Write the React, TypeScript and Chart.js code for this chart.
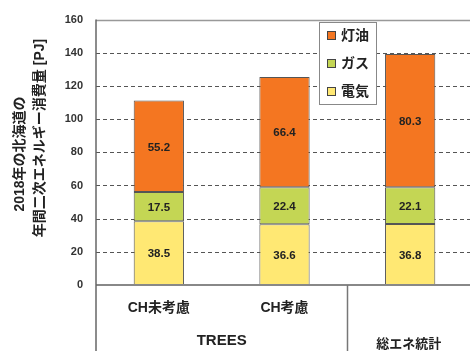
import React, { useEffect, useRef } from "react";
import { Chart, registerables } from "chart.js";

Chart.register(...registerables);

// Energy consumption by source (PJ), stacked bottom to top: electricity, gas, kerosene
const categories = ["CH未考慮", "CH考慮", "総エネ統計"];
const subLabels = ["CH未考慮", "CH考慮", ""];
const groupNames = ["TREES", "TREES", "総エネ統計"];
const electricity = [38.5, 36.6, 36.8];
const gas = [17.5, 22.4, 22.1];
const kerosene = [55.2, 66.4, 80.3];
const legendLabels = ["灯油", "ガス", "電気"];
const yTickValues = [0, 20, 40, 60, 80, 100, 120, 140, 160];
const yTitleLines = ["2018年の北海道の", "年間二次エネルギー消費量 [PJ]"];

const ORANGE = "#F47621";
const GREEN = "#C4D654";
const YELLOW = "#FFE873";
const FONT = '"Liberation Sans", "Noto Sans CJK JP", sans-serif';

const decorPlugin = {
  id: "decor",
  beforeDatasetsDraw(chart: any) {
    const { ctx, chartArea } = chart;
    const y = chart.scales.y;
    ctx.save();
    // dashed grid lines
    ctx.strokeStyle = "#555";
    ctx.lineWidth = 1;
    ctx.setLineDash([4, 3]);
    yTickValues.forEach((v) => {
      if (v === 0 || v === 160) return;
      const py = Math.round(y.getPixelForValue(v)) + 0.5;
      ctx.beginPath();
      ctx.moveTo(chartArea.left, py);
      ctx.lineTo(chart.width, py);
      ctx.stroke();
    });
    ctx.setLineDash([]);
    // top frame line
    const top = Math.round(y.getPixelForValue(160)) + 0.5;
    ctx.strokeStyle = "#999";
    ctx.lineWidth = 1.5;
    ctx.beginPath();
    ctx.moveTo(chartArea.left, top);
    ctx.lineTo(chart.width, top);
    ctx.stroke();
    ctx.restore();
  },
  afterDatasetsDraw(chart: any) {
    const { ctx, chartArea } = chart;
    const x = chart.scales.x;
    const y = chart.scales.y;
    ctx.save();

    // value labels inside each segment
    ctx.fillStyle = "#222";
    ctx.font = `bold 11.5px ${FONT}`;
    ctx.textAlign = "center";
    ctx.textBaseline = "middle";
    chart.data.datasets.forEach((ds: any, di: number) => {
      const meta = chart.getDatasetMeta(di);
      meta.data.forEach((el: any, i: number) => {
        const cy = (el.y + el.base) / 2;
        ctx.fillText(ds.data[i].toFixed(1), el.x, cy + 1);
      });
    });

    // x axis line
    const zero = y.getPixelForValue(0);
    ctx.strokeStyle = "#888";
    ctx.lineWidth = 2;
    ctx.beginPath();
    ctx.moveTo(chartArea.left, zero);
    ctx.lineTo(chart.width, zero);
    ctx.stroke();

    // y axis line, extended down through the label area
    ctx.strokeStyle = "#666";
    ctx.lineWidth = 1.5;
    ctx.beginPath();
    ctx.moveTo(chartArea.left, y.getPixelForValue(160));
    ctx.lineTo(chartArea.left, chart.height);
    ctx.stroke();

    // category labels and group labels
    const step = (chartArea.right - chartArea.left) / categories.length;
    ctx.fillStyle = "#222";
    ctx.font = `bold 14px ${FONT}`;
    subLabels.forEach((lab, i) => {
      if (!lab) return;
      ctx.fillText(lab, x.getPixelForValue(i), zero + 23);
    });
    let start = 0;
    for (let i = 1; i <= groupNames.length; i++) {
      if (i === groupNames.length || groupNames[i] !== groupNames[start]) {
        const left = chartArea.left + start * step;
        const right = Math.min(chartArea.left + i * step, chart.width);
        const isGroup = i - start > 1;
        ctx.font = isGroup ? `bold 15px ${FONT}` : `bold 13px ${FONT}`;
        const visRight = Math.min(right, 470);
        ctx.fillText(groupNames[start], (left + visRight) / 2, zero + (isGroup ? 56 : 59));
        if (i < groupNames.length) {
          const sx = Math.round(chartArea.left + i * step) + 0.5;
          ctx.strokeStyle = "#777";
          ctx.lineWidth = 1.5;
          ctx.beginPath();
          ctx.moveTo(sx, zero);
          ctx.lineTo(sx, chart.height);
          ctx.stroke();
        }
        start = i;
      }
    }

    // legend
    const lx = 319, ly = 22, lw = 57, lh = 82;
    ctx.fillStyle = "#fff";
    ctx.fillRect(lx, ly, lw, lh);
    ctx.strokeStyle = "#888";
    ctx.lineWidth = 1;
    ctx.strokeRect(lx + 0.5, ly + 0.5, lw, lh);
    const legendColors = [ORANGE, GREEN, YELLOW];
    legendLabels.forEach((lab, i) => {
      const cy = 35 + i * 28;
      ctx.fillStyle = legendColors[i];
      ctx.fillRect(327, cy - 4, 9, 9);
      ctx.strokeStyle = "#444";
      ctx.strokeRect(327.5, cy - 3.5, 8, 8);
      ctx.fillStyle = "#222";
      ctx.font = `bold 14px ${FONT}`;
      ctx.textAlign = "left";
      ctx.fillText(lab, 341, cy + 1);
    });

    // rotated y axis title
    ctx.fillStyle = "#222";
    ctx.font = `bold 14px ${FONT}`;
    ctx.textAlign = "center";
    const titleX = [20, 40];
    const titleY = [154, 138];
    yTitleLines.forEach((line, i) => {
      ctx.save();
      ctx.translate(titleX[i], titleY[i]);
      ctx.rotate(-Math.PI / 2);
      ctx.fillText(line, 0, 0);
      ctx.restore();
    });

    ctx.restore();
  },
};

export default function App() {
  const canvasRef = useRef<HTMLCanvasElement | null>(null);

  useEffect(() => {
    document.body.style.margin = "0";
    const canvas = canvasRef.current;
    if (!canvas) return;
    const chart = new Chart(canvas, {
      type: "bar",
      data: {
        labels: categories,
        datasets: [
          { label: "電気", data: electricity, backgroundColor: YELLOW },
          { label: "ガス", data: gas, backgroundColor: GREEN },
          { label: "灯油", data: kerosene, backgroundColor: ORANGE },
        ].map((d) => ({
          ...d,
          borderColor: "#555",
          borderWidth: 1,
          borderSkipped: false,
          barPercentage: 0.4,
          categoryPercentage: 1,
        })),
      },
      options: {
        responsive: false,
        animation: false,
        devicePixelRatio: 1,
        layout: { padding: { top: 12, bottom: 66, left: 0, right: 3 } },
        plugins: { legend: { display: false }, tooltip: { enabled: false } },
        scales: {
          x: { stacked: true, display: false },
          y: {
            stacked: true,
            min: 0,
            max: 160,
            afterFit: (scale: any) => {
              scale.width = 96;
            },
            afterBuildTicks: (scale: any) => {
              scale.ticks = yTickValues.map((v) => ({ value: v }));
            },
            grid: { display: false, drawTicks: false },
            border: { display: false },
            ticks: {
              padding: 13,
              color: "#333",
              font: { family: FONT, size: 11, weight: "bold" },
            },
          },
        },
      },
      plugins: [decorPlugin],
    });
    return () => chart.destroy();
  }, []);

  return (
    <div style={{ width: 470, height: 351, overflow: "hidden", position: "relative" }}>
      <canvas ref={canvasRef} width={476} height={351} style={{ display: "block" }} />
    </div>
  );
}
